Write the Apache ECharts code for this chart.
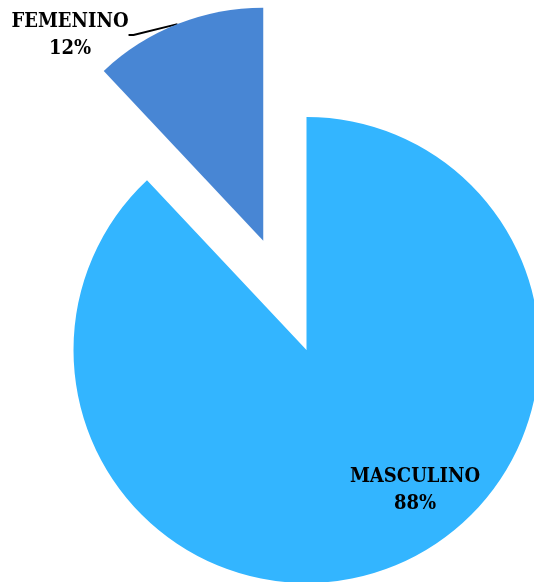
<!DOCTYPE html>
<html><head><meta charset="utf-8">
<script src="https://cdn.jsdelivr.net/npm/echarts@6/dist/echarts.min.js"></script>
<style>html,body{margin:0;padding:0;background:#fff}#c{width:534px;height:582px}</style>
</head><body><div id="c"></div>
<script>
const categories = ['MASCULINO', 'FEMENINO'];
const values = [88, 12];
const colors = ['#33B5FF', '#4886D4'];
const labelPos = [[415, 490], [70, 35]];
const explodeIndex = 1;
const explodeDist = 117.5;

const center = [306.5, 350];
const total = values.reduce((a, b) => a + b, 0);
// mid angle of exploded slice (clockwise from 12 o'clock)
let before = 0;
for (let i = 0; i < explodeIndex; i++) before += values[i];
const midAng = (before + values[explodeIndex] / 2) / total * 2 * Math.PI;
const center2 = [center[0] + explodeDist * Math.sin(midAng), center[1] - explodeDist * Math.cos(midAng)];

const font = { fontFamily: "'DejaVu Serif Condensed', 'DejaVu Serif', 'Liberation Serif', serif", fontWeight: 'bold', fontSize: 20, lineHeight: 27, color: '#000', align: 'center' };

function makeSeries(cen, visibleIdx) {
  return {
    type: 'pie',
    center: cen,
    radius: 233,
    startAngle: 90,
    clockwise: true,
    silent: true,
    emphasis: { disabled: true },
    itemStyle: { borderWidth: 0 },
    label: Object.assign({ show: true, formatter: p => p.name + '\n' + p.value + '%' }, font),
    labelLine: { show: true, length: 5, length2: 5, lineStyle: { color: '#000', width: 2 } },
    labelLayout: function (p) {
      const pos = labelPos[p.dataIndex];
      return { x: pos[0], y: pos[1], align: 'center', verticalAlign: 'middle' };
    },
    data: categories.map((c, i) => ({
      name: c,
      value: values[i],
      itemStyle: { color: i === visibleIdx ? colors[i] : 'rgba(0,0,0,0)' },
      label: { show: i === visibleIdx, position: i === explodeIndex ? 'outside' : 'inside' },
      labelLine: { show: i === visibleIdx && i === explodeIndex }
    }))
  };
}

const chart = echarts.init(document.getElementById('c'));
chart.setOption({
  animation: false,
  backgroundColor: '#ffffff',
  series: [makeSeries(center, 0), makeSeries(center2, explodeIndex)]
});
</script></body></html>
